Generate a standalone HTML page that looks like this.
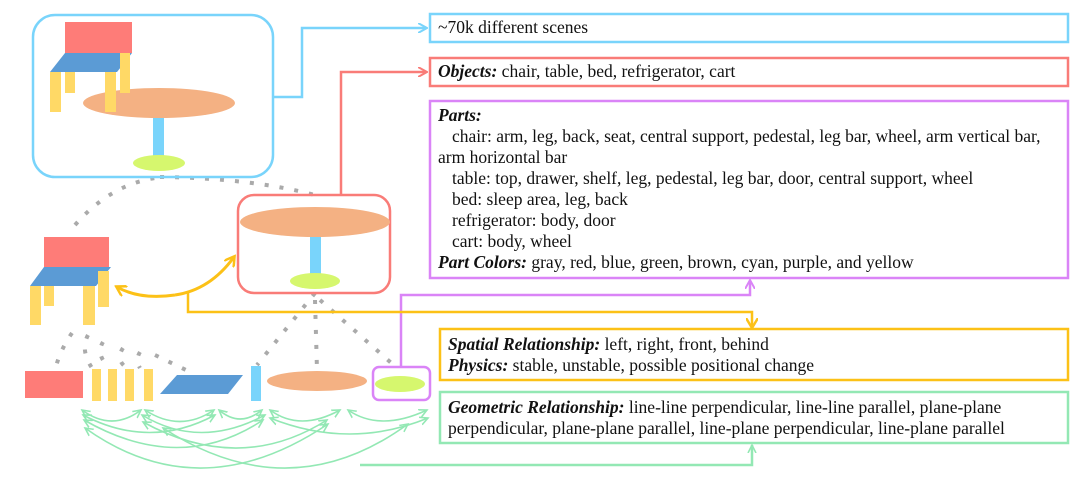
<!DOCTYPE html>
<html><head><meta charset="utf-8"><style>
html,body{margin:0;padding:0;background:#fff;width:1080px;height:494px;overflow:hidden}
text{font-family:"Liberation Serif",serif;font-size:17.5px;fill:#111}
.b{font-weight:bold;font-style:italic}
</style></head><body>
<svg width="1080" height="494" viewBox="0 0 1080 494" xmlns="http://www.w3.org/2000/svg">
<defs>
<marker id="ab" markerWidth="10" markerHeight="10" refX="8" refY="5" orient="auto" markerUnits="userSpaceOnUse"><path d="M0,0 L9,5 L0,10" fill="none" stroke="#79d4fb" stroke-width="2"/></marker>
<marker id="ar" markerWidth="10" markerHeight="10" refX="8" refY="5" orient="auto" markerUnits="userSpaceOnUse"><path d="M0,0 L9,5 L0,10" fill="none" stroke="#f97c78" stroke-width="2"/></marker>
<marker id="ap" markerWidth="10" markerHeight="10" refX="8" refY="5" orient="auto" markerUnits="userSpaceOnUse"><path d="M0,0 L9,5 L0,10" fill="none" stroke="#da84f7" stroke-width="2"/></marker>
<marker id="ay" markerWidth="12" markerHeight="12" refX="9" refY="6" orient="auto" markerUnits="userSpaceOnUse"><path d="M0,0 L10,6 L0,12" fill="none" stroke="#fcc117" stroke-width="2.5"/></marker>
<marker id="ag" markerWidth="10" markerHeight="10" refX="8" refY="5" orient="auto-start-reverse" markerUnits="userSpaceOnUse"><path d="M0,1 L8,5 L0,9" fill="none" stroke="#93e8b4" stroke-width="1.6"/></marker>
</defs>

<g fill="none" stroke="#aaa" stroke-width="4" stroke-dasharray="4,11">
<path d="M75,225 Q110,185 155,178"/>
<path d="M160,177 Q250,178 315,195"/>
<path d="M315,293 L257,365"/>
<path d="M315,300 L317,370"/>
<path d="M320,300 L397,368"/>
<path d="M72,333 Q60,350 55,370"/>
<path d="M88,335 Q80,350 92,368"/>
<path d="M103,342 Q95,355 110,368"/>
<path d="M123,348 Q115,360 127,368"/>
<path d="M140,352 Q135,360 140,368"/>
<path d="M155,355 L190,372"/>
</g>

<rect x="33" y="15" width="240" height="162" rx="22" fill="none" stroke="#79d4fb" stroke-width="2.5"/>
<ellipse cx="159" cy="103" rx="76" ry="15" fill="#f4b183"/>
<rect x="153" y="118" width="11" height="42" fill="#79d4fb"/>
<ellipse cx="159" cy="163" rx="26" ry="8" fill="#d6f76e"/>
<rect x="65" y="22" width="67" height="31" fill="#fe7c78"/>
<polygon points="50,72 65,53 132,53 117,72" fill="#5b9bd5"/>
<rect x="50" y="72" width="11" height="40" fill="#ffd966"/>
<rect x="65" y="72" width="10" height="21" fill="#ffd966"/>
<rect x="105" y="72" width="11" height="40" fill="#ffd966"/>
<rect x="120" y="53" width="10" height="40" fill="#ffd966"/>

<path d="M273,97 H302 V28 H426" fill="none" stroke="#79d4fb" stroke-width="2.5" marker-end="url(#ab)"/>
<path d="M341,195 V72 H426" fill="none" stroke="#f97c78" stroke-width="2.5" marker-end="url(#ar)"/>
<path d="M401,367 V295 H750 V281" fill="none" stroke="#da84f7" stroke-width="2.5" marker-end="url(#ap)"/>
<path d="M188,293 V312 H752 V327" fill="none" stroke="#fcc117" stroke-width="2.5" marker-end="url(#ay)"/>
<path d="M360,465 H752 V445" fill="none" stroke="#93e8b4" stroke-width="2.5" marker-end="url(#ag)"/>
<path d="M175,295 Q140,300 117,287" fill="none" stroke="#fcc117" stroke-width="3" marker-end="url(#ay)"/>
<path d="M175,295 Q210,290 234,257" fill="none" stroke="#fcc117" stroke-width="3" marker-end="url(#ay)"/>

<rect x="238" y="195" width="152" height="98" rx="16" fill="none" stroke="#f97c78" stroke-width="2.5"/>
<ellipse cx="315" cy="222" rx="75" ry="15" fill="#f4b183"/>
<rect x="310" y="237" width="11" height="40" fill="#79d4fb"/>
<ellipse cx="315" cy="281" rx="25" ry="8" fill="#d6f76e"/>

<rect x="44" y="237" width="65" height="30" fill="#fe7c78"/>
<polygon points="30,286 44,267 111,267 96,286" fill="#5b9bd5"/>
<rect x="30" y="286" width="11" height="39" fill="#ffd966"/>
<rect x="44" y="286" width="10" height="20" fill="#ffd966"/>
<rect x="83" y="286" width="12" height="39" fill="#ffd966"/>
<rect x="98" y="271" width="11" height="36" fill="#ffd966"/>

<rect x="25" y="371" width="58" height="27" fill="#fe7c78"/>
<rect x="92" y="369" width="9" height="32" fill="#ffd966"/>
<rect x="108" y="369" width="9" height="32" fill="#ffd966"/>
<rect x="125" y="369" width="9" height="32" fill="#ffd966"/>
<rect x="144" y="369" width="9" height="32" fill="#ffd966"/>
<polygon points="160,394 177,375 243,375 228,394" fill="#5b9bd5"/>
<rect x="251" y="366" width="10" height="35" fill="#79d4fb"/>
<ellipse cx="317" cy="381" rx="50" ry="10" fill="#f4b183"/>
<rect x="373" y="367" width="57" height="33" rx="6" fill="none" stroke="#da84f7" stroke-width="2.5"/>
<ellipse cx="400" cy="384" rx="25" ry="8" fill="#d6f76e"/>

<g fill="none" stroke="#93e8b4" stroke-width="1.6" marker-start="url(#ag)" marker-end="url(#ag)">
<path d="M82,410 Q112,432 141,410"/>
<path d="M145,410 Q180,433 214,410"/>
<path d="M219,410 Q240,428 262,410"/>
<path d="M270,410 Q300,432 340,410"/>
<path d="M348,410 Q380,432 427,410"/>
<path d="M83,415 Q150,450 215,415"/>
<path d="M142,415 Q200,450 265,415"/>
<path d="M270,418 Q350,450 428,418"/>
<path d="M84,420 Q180,475 263,420"/>
<path d="M143,422 Q240,475 327,420"/>
<path d="M85,428 Q200,510 328,424"/>
<path d="M163,428 Q290,510 408,424"/>
</g>

<rect x="430" y="14" width="638" height="28" fill="none" stroke="#79d4fb" stroke-width="2.5"/>
<text x="438" y="33">~70k different scenes</text>
<rect x="430" y="58" width="638" height="28" fill="none" stroke="#f97c78" stroke-width="2.5"/>
<text x="438" y="77"><tspan class="b">Objects:</tspan> chair, table, bed, refrigerator, cart</text>
<rect x="430" y="101" width="638" height="177" fill="none" stroke="#da84f7" stroke-width="2.5"/>
<text x="438" y="121" class="b">Parts:</text>
<text x="452" y="142">chair: arm, leg, back, seat, central support, pedestal, leg bar, wheel, arm vertical bar,</text>
<text x="438" y="163">arm horizontal bar</text>
<text x="452" y="184">table: top, drawer, shelf, leg, pedestal, leg bar, door, central support, wheel</text>
<text x="452" y="205">bed: sleep area, leg, back</text>
<text x="452" y="226">refrigerator: body, door</text>
<text x="452" y="247">cart: body, wheel</text>
<text x="438" y="268"><tspan class="b">Part Colors:</tspan> gray, red, blue, green, brown, cyan, purple, and yellow</text>
<rect x="440" y="329" width="628" height="51" fill="none" stroke="#fcc117" stroke-width="2.5"/>
<text x="448" y="350"><tspan class="b">Spatial Relationship:</tspan> left, right, front, behind</text>
<text x="448" y="371"><tspan class="b">Physics:</tspan> stable, unstable, possible positional change</text>
<rect x="440" y="392" width="628" height="51" fill="none" stroke="#93e8b4" stroke-width="2.5"/>
<text x="448" y="413"><tspan class="b">Geometric Relationship:</tspan> line-line perpendicular, line-line parallel, plane-plane</text>
<text x="448" y="434">perpendicular, plane-plane parallel, line-plane perpendicular, line-plane parallel</text>
</svg>
</body></html>
